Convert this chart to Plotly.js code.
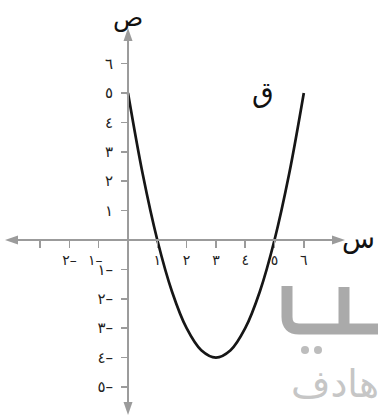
<!DOCTYPE html>
<html><head><meta charset="utf-8">
<script src="https://cdn.plot.ly/plotly-3.0.1.min.js"></script>
<style>html,body{margin:0;padding:0;background:#fff;}#chart{width:378px;height:419px;}</style>
</head><body><div id="chart"></div>
<script>
// Curve points
const curveX = [0, 0.5, 1, 1.5, 2, 2.5, 3, 3.5, 4, 4.5, 5, 5.5, 6];
const curveY = [5, 2.25, 0, -1.75, -3, -3.75, -4, -3.75, -3, -1.75, 0, 2.25, 5];

// Ticks
const xTickVals = [-3, -2, -1, 1, 2, 3, 4, 5, 6];
const xTickText = ['', '٢–', '١–\u2002', '١', '٢', '٣', '٤', '٥', '٦'];
const yTickVals = [-5, -4, -3, -2, -1, 1, 2, 3, 4, 5, 6];
const yTickText = ['٥–', '٤–', '٣–', '٢–', '١–', '١', '٢', '٣', '٤', '٥', '٦'];

const xLabel = 'س', yLabel = 'ص', curveLabel = 'ق';
const watermarkText = 'هادف';

const W = 378, H = 419;
const xRange = [-4.369, 8.532];
const yRange = [-6.088, 8.163];
const AX = '#9b9b9b';
const AR = 'DejaVu Sans, sans-serif';

const px = x => x / W, py = y => 1 - y / H;
const dxp = x => (x - xRange[0]) / (xRange[1] - xRange[0]);
const dyp = y => (y - yRange[0]) / (yRange[1] - yRange[0]);

// axis geometry in paper units
const ox = dxp(0), oy = dyp(0);
const xL = px(5), xR = px(345), yT = py(28), yB = py(415);
const aLx = 13 / W, aLy = 13 / H, aWx = 4.5 / W, aWy = 4.5 / H;

function poly(pts) { return 'M' + pts.map(p => p[0] + ',' + p[1]).join(' L') + ' Z'; }

const shapes = [
  {type:'line', xref:'paper', yref:'paper', x0:xL + aLx*0.8, x1:xR - aLx*0.8, y0:oy, y1:oy, line:{color:AX, width:2}},
  {type:'line', xref:'paper', yref:'paper', x0:ox, x1:ox, y0:yB + aLy*0.8, y1:yT - aLy*0.8, line:{color:AX, width:2}},
  {type:'path', xref:'paper', yref:'paper', path:poly([[xL,oy],[xL+aLx,oy+aWy],[xL+aLx,oy-aWy]]), fillcolor:AX, line:{width:0}},
  {type:'path', xref:'paper', yref:'paper', path:poly([[xR,oy],[xR-aLx,oy+aWy],[xR-aLx,oy-aWy]]), fillcolor:AX, line:{width:0}},
  {type:'path', xref:'paper', yref:'paper', path:poly([[ox,yT],[ox-aWx,yT-aLy],[ox+aWx,yT-aLy]]), fillcolor:AX, line:{width:0}},
  {type:'path', xref:'paper', yref:'paper', path:poly([[ox,yB],[ox-aWx,yB+aLy],[ox+aWx,yB+aLy]]), fillcolor:AX, line:{width:0}},
  // watermark logo
  {type:'path', xref:'paper', yref:'paper', layer:'below',
   path:`M${px(287)},${py(286)} L${px(287)},${py(317)} Q${px(287)},${py(329)} ${px(299)},${py(329)} L${px(380)},${py(329)}`,
   line:{color:'#aaaaaa', width:11}},
  {type:'line', xref:'paper', yref:'paper', layer:'below', x0:px(344), x1:px(344), y0:py(287), y1:py(330), line:{color:'#aaaaaa', width:11}},
  {type:'circle', xref:'paper', yref:'paper', layer:'below', x0:px(301), x1:px(309), y0:py(346), y1:py(354), fillcolor:'#bdbdbd', line:{width:0}},
  {type:'circle', xref:'paper', yref:'paper', layer:'below', x0:px(314), x1:px(322), y0:py(346), y1:py(354), fillcolor:'#bdbdbd', line:{width:0}}
];

const annotations = [
  {text:xLabel, xref:'paper', yref:'paper', x:px(377), y:py(238), xanchor:'right', yanchor:'middle', showarrow:false, font:{family:AR, size:27, color:'#111'}},
  {text:yLabel, xref:'paper', yref:'paper', x:px(128), y:py(1), xanchor:'center', yanchor:'top', showarrow:false, font:{family:AR, size:25, color:'#111'}},
  {text:curveLabel, xref:'paper', yref:'paper', x:px(263), y:py(92), xanchor:'center', yanchor:'middle', showarrow:false, font:{family:AR, size:28, color:'#111'}},
  {text:watermarkText, xref:'paper', yref:'paper', x:px(289), y:py(384), xanchor:'left', yanchor:'middle', showarrow:false, font:{family:AR, size:38, color:'#c6c6c6'}}
];

const trace = {x:curveX, y:curveY, mode:'lines', line:{color:'#161616', width:2.7, shape:'spline', smoothing:1}, hoverinfo:'skip'};

const layout = {
  width:W, height:H, margin:{l:0, r:0, t:0, b:0}, showlegend:false,
  paper_bgcolor:'#fff', plot_bgcolor:'rgba(0,0,0,0)',
  xaxis:{range:xRange, anchor:'free', position:oy, showline:false, showgrid:false, zeroline:false,
    tickmode:'array', tickvals:xTickVals, ticktext:xTickText, ticks:'outside', ticklen:7, tickwidth:1.5, tickcolor:AX,
    tickfont:{family:AR, size:14, color:'#222'}, ticklabelstandoff:0, fixedrange:true},
  yaxis:{range:yRange, anchor:'free', position:ox, showline:false, showgrid:false, zeroline:false,
    tickmode:'array', tickvals:yTickVals, ticktext:yTickText, ticks:'outside', ticklen:7, tickwidth:1.5, tickcolor:AX,
    tickfont:{family:AR, size:15, color:'#222'}, ticklabelstandoff:5, fixedrange:true},
  shapes:shapes, annotations:annotations
};

Plotly.newPlot('chart', [trace], layout, {displayModeBar:false, staticPlot:true});
</script></body></html>
